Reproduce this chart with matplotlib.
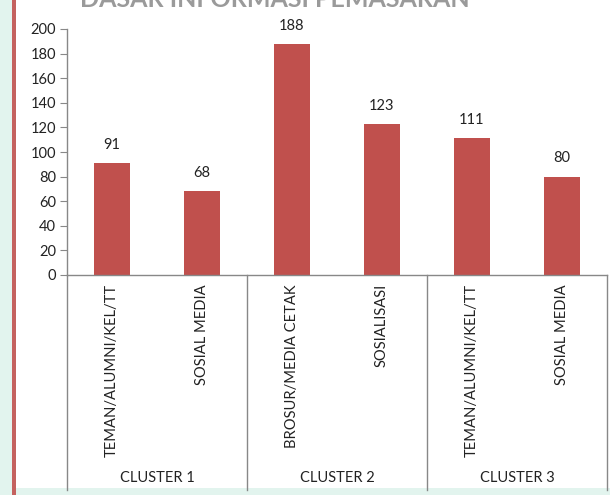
import matplotlib
matplotlib.use("Agg")
import matplotlib.pyplot as plt
from matplotlib.patches import Rectangle
import matplotlib.transforms as mtransforms

categories = ["TEMAN/ALUMNI/KEL/TT", "SOSIAL MEDIA", "BROSUR/MEDIA CETAK",
              "SOSIALISASI", "TEMAN/ALUMNI/KEL/TT", "SOSIAL MEDIA"]
values = [91, 68, 188, 123, 111, 80]
groups = ["CLUSTER 1", "CLUSTER 2", "CLUSTER 3"]
yticks = [0, 20, 40, 60, 80, 100, 120, 140, 160, 180, 200]
title = "DASAR INFORMASI PEMASARAN"

plt.rcParams['font.family'] = ['Lato', 'DejaVu Sans']

W, H = 610, 495
fig = plt.figure(figsize=(W / 100, H / 100), dpi=100, facecolor="#e2f4ee")

# background panels
fig.patches.append(Rectangle((16 / W, 7 / H), 1 - 16 / W, 1 - 7 / H,
                             transform=fig.transFigure, facecolor="white",
                             edgecolor="none", zorder=-3))
fig.patches.append(Rectangle((12.5 / W, 0), 3.5 / W, 1,
                             transform=fig.transFigure, facecolor="#c4625f",
                             edgecolor="none", zorder=-2))

ax = fig.add_axes([67 / W, 1 - 275 / H, 540 / W, 246 / H])
ax.set_zorder(1)
ax.set_facecolor("none")
x = list(range(len(categories)))
ax.bar(x, values, width=0.39, color="#c0504d", zorder=2)
for xi, v in zip(x, values):
    ax.annotate(str(v), (xi, v), xytext=(0, 8), textcoords="offset points",
                ha="center", va="bottom", fontsize=10.5, color="#222222")

ax.set_xlim(-0.5, len(categories) - 0.5)
ax.set_ylim(0, 200)
ax.set_yticks(yticks)
ax.set_yticklabels([str(t) for t in yticks], fontsize=10.5, color="#222222")
ax.tick_params(axis="y", length=5, color="#888888", direction="out", pad=3)
ax.set_xticks([])
for s in ["top", "right"]:
    ax.spines[s].set_visible(False)
for s in ["left", "bottom"]:
    ax.spines[s].set_color("#888888")
    ax.spines[s].set_linewidth(1.0)

# category labels (rotated)
trans_lab = mtransforms.blended_transform_factory(ax.transData, fig.transFigure)
for xi, c in zip(x, categories):
    ax.text(xi, 1 - 284 / H, c, rotation=90, ha="center", va="top",
            fontsize=10.6, color="#222222", transform=trans_lab)

# group separators and labels
for b in [-0.5, 1.5, 3.5, 5.5]:
    ax.plot([b, b], [1 - 275 / H, 1 - 490 / H], color="#888888", lw=1.0,
            transform=trans_lab, clip_on=False)
for gi, g in enumerate(groups):
    ax.text(gi * 2 + 0.5, 1 - 478 / H, g, ha="center", va="center",
            fontsize=10.5, color="#222222", transform=trans_lab)

# clipped title at top (the reference shows only its lower part)
fig.text(275 / W, 1 - 7 / H, title, ha="center", va="baseline",
         fontsize=18, fontweight="bold", color="#9a9a9a")

fig.savefig("out.png", dpi=100, facecolor=fig.get_facecolor())
